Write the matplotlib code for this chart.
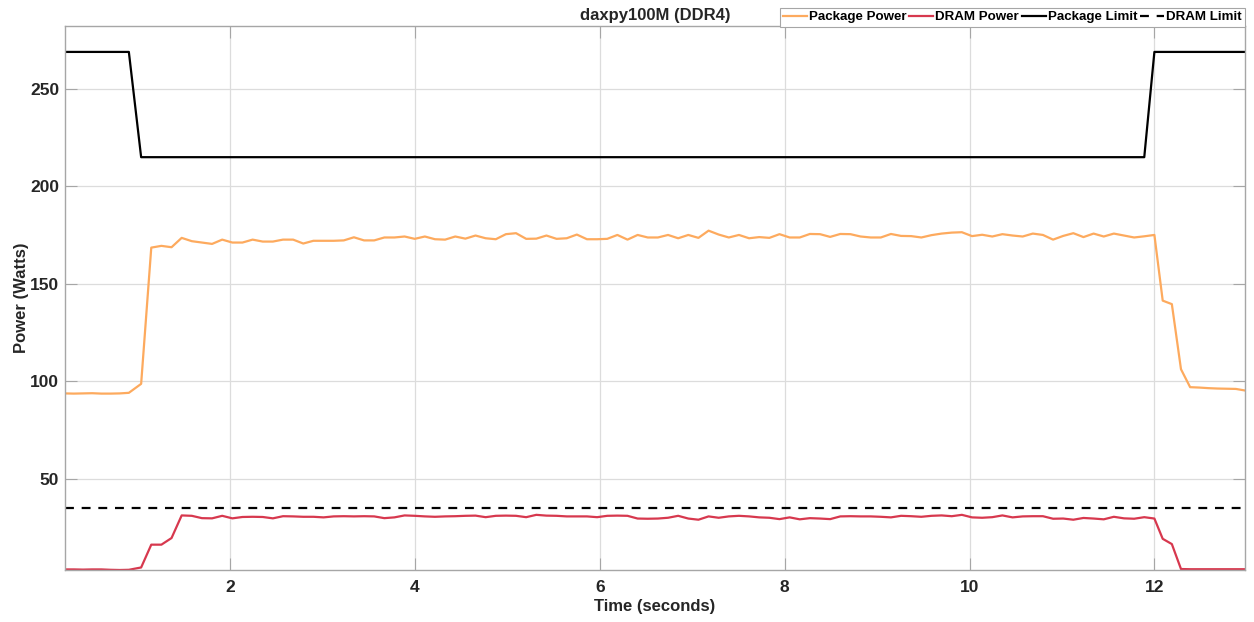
import numpy as np
import matplotlib.pyplot as plt

plt.rcParams['font.family'] = ['Liberation Sans', 'DejaVu Sans']

# sample times (s): idle start, run, idle end (sampling is a bit uneven)
time = np.concatenate([np.linspace(0.21, 0.904, 8),
                       np.linspace(1.037, 12.0, 101),
                       np.linspace(12.09, 12.98, 10)])

package_power = [
    93.8, 93.7, 93.8, 93.9, 93.7, 93.7, 93.8, 94.1,
    98.7, 168.6, 169.5, 168.8, 173.6, 171.9, 171.2, 170.5, 172.7, 171.2,
    171.2, 172.7, 171.7, 171.7, 172.7, 172.7, 170.7, 172.1, 172.1, 172.1,
    172.3, 173.9, 172.3, 172.3, 173.8, 173.8, 174.3, 173.1,
    174.3, 172.9, 172.7, 174.3, 173.2, 174.8, 173.4, 172.9, 175.5, 176.0,
    173.1, 173.2, 174.8, 173.1, 173.4, 175.3, 172.9, 172.9, 173.1, 175.1,
    172.7, 175.1, 173.8, 173.8, 175.1, 173.4, 175.1, 173.6, 177.3, 175.3,
    173.8, 175.1, 173.4, 174.0, 173.6, 175.5, 173.8, 173.8, 175.6, 175.5,
    174.1, 175.6, 175.5, 174.3, 173.8, 173.8, 175.6, 174.6,
    174.5, 173.8, 175.0, 175.8, 176.3, 176.5, 174.5, 175.2, 174.3,
    175.5, 174.8, 174.3, 175.8, 175.1, 172.7, 174.6, 176.0, 174.0, 175.8,
    174.3, 175.8, 174.8, 173.8, 174.4, 175.1,
    141.4, 139.6, 106.2, 97.0, 96.8, 96.5, 96.3, 96.2, 96.1, 95.3,
]

dram_power = [
    3.5, 3.5, 3.4, 3.5, 3.5, 3.3, 3.2, 3.3,
    4.5, 16.2, 16.2, 19.6, 31.2, 31.0, 29.8, 29.7, 31.0, 29.7,
    30.4, 30.5, 30.4, 29.7, 30.8, 30.7, 30.5, 30.5, 30.2, 30.7,
    30.8, 30.7, 30.8, 30.7, 29.8, 30.2, 31.2, 31.0,
    30.7, 30.5, 30.7, 30.8, 31.0, 31.1, 30.3, 31.0, 31.1, 31.0,
    30.3, 31.5, 31.1, 31.0, 30.7, 30.7, 30.7, 30.3, 31.0, 31.1,
    31.0, 29.6, 29.5, 29.6, 30.0, 31.0, 29.6, 29.0, 30.7, 30.0,
    30.7, 31.0, 30.7, 30.2, 30.0, 29.3, 30.2, 29.2, 29.8, 29.6,
    29.3, 30.7, 30.8, 30.7, 30.7, 30.5, 30.2, 31.0,
    30.8, 30.5, 31.0, 31.2, 30.8, 31.5, 30.2, 30.0, 30.3,
    31.2, 30.2, 30.7, 30.8, 30.8, 29.5, 29.6, 29.0, 29.9, 29.6,
    29.2, 30.5, 29.7, 29.5, 30.3, 29.6,
    19.2, 16.5, 3.7, 3.6, 3.6, 3.6, 3.6, 3.6, 3.6, 3.6,
]

# power caps: package cap lowered while the kernel runs
package_limit = [269] * 8 + [215] * 100 + [269] * 11
dram_limit = [35] * len(time)

fig = plt.figure(figsize=(12.54, 6.22), dpi=100)
ax = fig.add_axes([0.0516, 0.0836, 0.9412, 0.8746])

ax.plot(time, package_power, color='#FDAA5E', lw=1.6, label='Package Power')
ax.plot(time, dram_power, color='#D7384E', lw=1.6, label='DRAM Power')
ax.plot(time, package_limit, color='black', lw=1.6, label='Package Limit')
ax.plot(time, dram_limit, color='black', lw=1.6, ls=(0, (4, 3.5)), label='DRAM Limit')

ax.set_xlim(time[0], time[-1])
ax.set_ylim(3.2, 282.3)
ax.set_xticks([2, 4, 6, 8, 10, 12])
ax.set_yticks([50, 100, 150, 200, 250])

ax.grid(True, color='#dcdcdc', lw=0.9)
ax.set_axisbelow(True)
for s in ax.spines.values():
    s.set_color('#a6a6a6')
    s.set_linewidth(1.0)
ax.tick_params(direction='in', length=8.5, width=0.8, color='#a6a6a6',
               top=True, right=True, labelsize=12.5, labelcolor='#262626')
ax.tick_params(axis='y', pad=4)
ax.tick_params(axis='x', pad=7)
for lab in ax.get_xticklabels() + ax.get_yticklabels():
    lab.set_fontweight('bold')

ax.set_xlabel('Time (seconds)', fontsize=12, fontweight='bold', color='#262626', labelpad=3)
ax.set_ylabel('Power (Watts)', fontsize=12, fontweight='bold', color='#262626', labelpad=1)
ax.set_title('daxpy100M (DDR4)', fontsize=12, fontweight='bold', color='#262626', pad=4)

leg = ax.legend(loc='lower right', bbox_to_anchor=(1.0, 0.999), ncol=4, fancybox=False,
                framealpha=1, edgecolor='#a6a6a6', borderpad=0.25, handlelength=1.8,
                handletextpad=0.15, columnspacing=0.2, borderaxespad=0,
                prop={'weight': 'bold', 'size': 9.6})
leg.get_frame().set_linewidth(0.8)

fig.savefig('out.png', dpi=100)
